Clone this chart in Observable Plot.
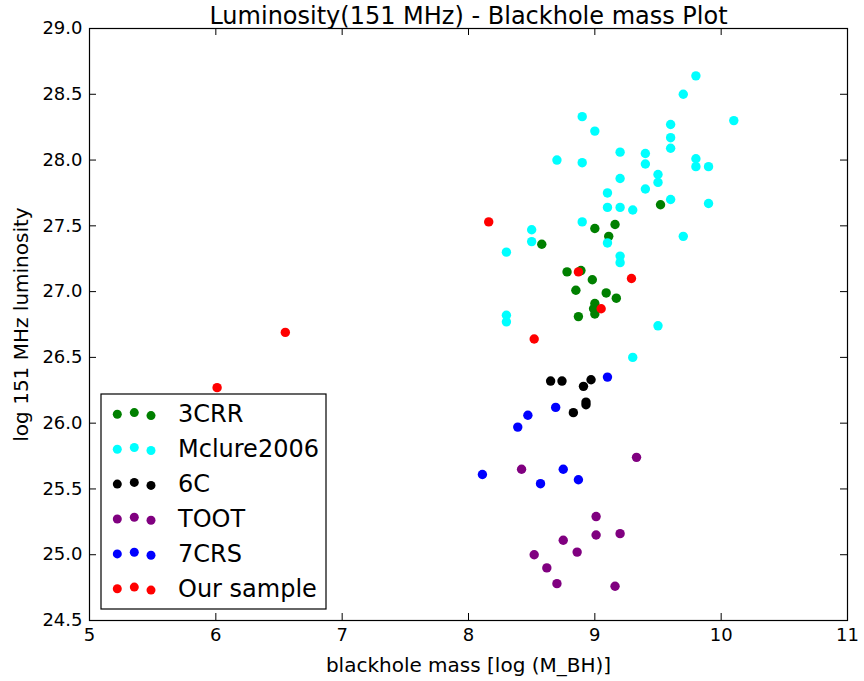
<!DOCTYPE html>
<html><head><meta charset="utf-8">
<script src="https://cdn.jsdelivr.net/npm/d3@7"></script>
<script src="https://cdn.jsdelivr.net/npm/@observablehq/plot@0.6"></script>
<style>
body{margin:0;background:#fff}
#chart{position:relative;width:864px;height:681px;font-family:"DejaVu Sans",sans-serif}
#legend{position:absolute;left:0;top:0;pointer-events:none}
</style>
</head><body><div id="chart"></div>
<script>
const titleText = "Luminosity(151 MHz) - Blackhole mass Plot";
const xLabel = "blackhole mass [log (M_BH)]";
const yLabel = "log 151 MHz luminosity";
const seriesNames = ["3CRR", "Mclure2006", "6C", "TOOT", "7CRS", "Our sample"];
const seriesColors = ["#008000", "#00ffff", "#000000", "#800080", "#0000ff", "#ff0000"];
const xTicks = [5, 6, 7, 8, 9, 10, 11];
const yTicks = [24.5, 25.0, 25.5, 26.0, 26.5, 27.0, 27.5, 28.0, 28.5, 29.0];

const crrX = [9.52, 9.00, 9.16, 9.11, 8.58, 8.78, 8.89, 8.98, 8.85, 9.09, 9.17, 9.00, 8.99, 9.00, 8.87];
const crrY = [27.66, 27.48, 27.51, 27.42, 27.36, 27.15, 27.16, 27.09, 27.01, 26.99, 26.95, 26.91, 26.87, 26.83, 26.81];

const mclureX = [9.80, 9.70, 8.90, 9.00, 10.10, 9.60, 9.60, 9.60, 9.20, 9.40, 8.70, 8.90, 9.40, 9.80, 9.80, 9.90, 9.50, 9.50, 9.20, 9.10, 9.40, 9.60, 9.90, 9.10, 9.20, 9.30, 8.90, 8.50, 8.50, 9.10, 8.30, 9.70, 9.20, 9.20, 8.30, 8.30, 9.50, 9.30];
const mclureY = [28.64, 28.50, 28.33, 28.22, 28.30, 28.27, 28.17, 28.09, 28.06, 28.05, 28.00, 27.98, 27.97, 28.01, 27.95, 27.95, 27.89, 27.83, 27.86, 27.75, 27.78, 27.70, 27.67, 27.64, 27.64, 27.62, 27.53, 27.47, 27.38, 27.37, 27.30, 27.42, 27.27, 27.22, 26.82, 26.77, 26.74, 26.50];

const sixcX = [8.65, 8.74, 8.91, 8.97, 8.93, 8.93, 8.83];
const sixcY = [26.32, 26.32, 26.28, 26.33, 26.16, 26.14, 26.08];

const tootX = [8.42, 9.33, 9.01, 9.01, 9.20, 8.75, 8.86, 8.52, 8.62, 8.70, 9.16];
const tootY = [25.65, 25.74, 25.29, 25.15, 25.16, 25.11, 25.02, 25.00, 24.90, 24.78, 24.76];

const crsX = [9.10, 8.69, 8.47, 8.39, 8.11, 8.57, 8.75, 8.87];
const crsY = [26.35, 26.12, 26.06, 25.97, 25.61, 25.54, 25.65, 25.57];

const oursX = [8.16, 8.87, 9.29, 9.05, 8.52, 6.55, 6.01];
const oursY = [27.53, 27.15, 27.10, 26.87, 26.64, 26.69, 26.27];

const build = (name, xs, ys) => xs.map((x, i) => ({series: name, mass: x, lum: ys[i]}));
const rows = [
  ...build("3CRR", crrX, crrY),
  ...build("Mclure2006", mclureX, mclureY),
  ...build("6C", sixcX, sixcY),
  ...build("TOOT", tootX, tootY),
  ...build("7CRS", crsX, crsY),
  ...build("Our sample", oursX, oursY)
];

const W = 864, H = 681, mL = 89, mR = 17, mT = 28, mB = 61;
const innerW = W - mL - mR, innerH = H - mT - mB;
const tickLen = 7;

const chart = Plot.plot({
  width: W, height: H,
  marginLeft: mL, marginRight: mR, marginTop: mT, marginBottom: mB,
  style: {fontFamily: "DejaVu Sans", background: "white", color: "black", overflow: "visible"},
  x: {domain: [5, 11]},
  y: {domain: [24.5, 29]},
  color: {domain: seriesNames, range: seriesColors},
  marks: [
    Plot.axisX(xTicks, {tickSize: 0, tickPadding: 8, fontSize: 18, label: null, tickFormat: d => String(d)}),
    Plot.axisY(yTicks, {tickSize: 0, tickPadding: 7, fontSize: 18, label: null, tickFormat: d => d.toFixed(1)}),
    Plot.tickX(xTicks, {x: d => d, insetTop: innerH - tickLen, stroke: "black"}),
    Plot.tickX(xTicks, {x: d => d, insetBottom: innerH - tickLen, stroke: "black"}),
    Plot.tickY(yTicks, {y: d => d, insetRight: innerW - tickLen, stroke: "black"}),
    Plot.tickY(yTicks, {y: d => d, insetLeft: innerW - tickLen, stroke: "black"}),
    Plot.dot(rows, {x: "mass", y: "lum", fill: "series", r: 4.7}),
    Plot.frame({stroke: "black", strokeWidth: 1.2}),
    Plot.text([titleText], {text: d => d, frameAnchor: "top", lineAnchor: "middle", textAnchor: "middle", dy: -12, fontSize: 24, fill: "black"}),
    Plot.text([xLabel], {text: d => d, frameAnchor: "bottom", lineAnchor: "middle", textAnchor: "middle", dy: 45, fontSize: 20, fill: "black"}),
    Plot.text([yLabel], {text: d => d, frameAnchor: "left", lineAnchor: "middle", textAnchor: "middle", dx: -68, rotate: -90, fontSize: 20, fill: "black"})
  ]
});

const host = document.getElementById("chart");
host.appendChild(chart);

// Legend overlay
const leg = d3.select(host).append("svg")
  .attr("id", "legend").attr("width", W).attr("height", H);
const box = {x: 101, y: 394, w: 225, h: 215};
leg.append("rect").attr("x", box.x).attr("y", box.y).attr("width", box.w).attr("height", box.h)
  .attr("fill", "white").attr("stroke", "black").attr("stroke-width", 1.2);
const dotXs = [117.3, 134.3, 151];
const dotDy = [0, -1.7, 1.3];
seriesNames.forEach((name, i) => {
  const rowY = 414.3 + i * 34.9;
  dotXs.forEach((dx, j) => {
    leg.append("circle").attr("cx", dx).attr("cy", rowY + dotDy[j]).attr("r", 4.5).attr("fill", seriesColors[i]);
  });
  leg.append("text").attr("x", 178).attr("y", rowY + 7.8)
    .attr("font-family", "DejaVu Sans").attr("font-size", 24).attr("fill", "black").text(name);
});
</script>
</body></html>
